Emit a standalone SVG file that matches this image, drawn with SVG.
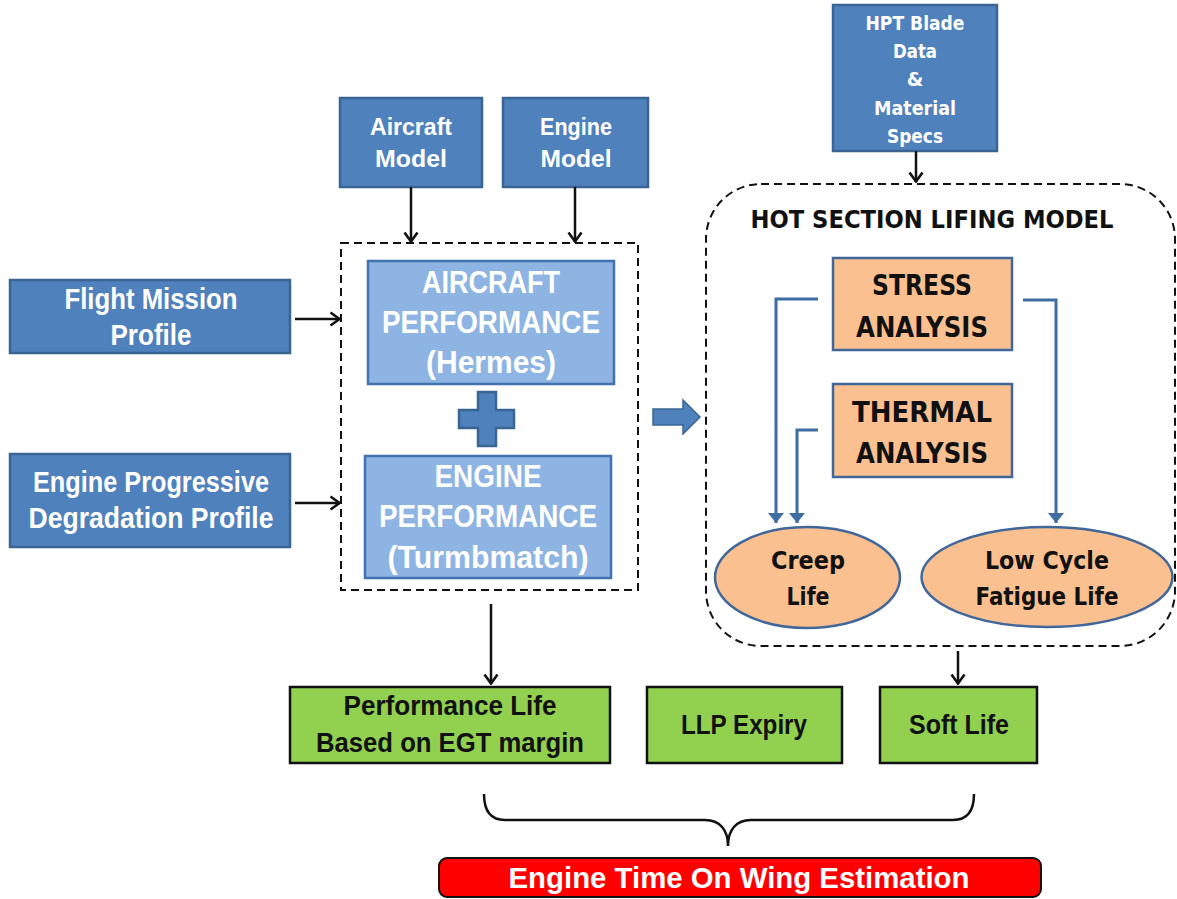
<svg xmlns="http://www.w3.org/2000/svg" width="1177" height="899" viewBox="0 0 1177 899">
<defs>
<style>
.dk{fill:#4F81BD;stroke:#3A6593;stroke-width:2.5}
.lt{fill:#8DB4E2;stroke:#4272B0;stroke-width:2.5}
.pe{fill:#FAC090;stroke:#41679A;stroke-width:2.5}
.gr{fill:#92D050;stroke:#111;stroke-width:2.5}
.dash{fill:none;stroke:#111;stroke-width:2;stroke-dasharray:8 5}
.w{fill:#fff;font-family:"Liberation Sans",Arial,sans-serif;font-weight:bold;text-anchor:middle}
.k{fill:#111;font-family:"Liberation Sans",Arial,sans-serif;font-weight:bold;text-anchor:middle}
.wv{fill:#fff;font-family:"DejaVu Sans",Verdana,sans-serif;font-weight:bold;text-anchor:middle}
.kv{fill:#111;font-family:"DejaVu Sans",Verdana,sans-serif;font-weight:bold;text-anchor:middle}
.ca{fill:none;stroke:#111;stroke-width:2.5}
.ba{fill:none;stroke:#3F6CA3;stroke-width:3}
</style>
<marker id="ah" viewBox="0 0 12 16" refX="11" refY="8" markerWidth="12" markerHeight="16" markerUnits="userSpaceOnUse" orient="auto">
<path d="M1.5,1.5 L10.5,8 L1.5,14.5" fill="none" stroke="#111" stroke-width="2.6"/>
</marker>
<marker id="bh" viewBox="0 0 10 16" refX="10" refY="8" markerWidth="10" markerHeight="16" markerUnits="userSpaceOnUse" orient="auto">
<path d="M0,0 L10,8 L0,16 Z" fill="#3F6CA3"/>
</marker>
</defs>
<rect width="1177" height="899" fill="#fff"/>

<g id="aircraft-model">
<rect class="dk" x="340" y="98" width="142" height="89"/>
<text class="w" x="411" y="135" font-size="24" textLength="82" lengthAdjust="spacingAndGlyphs">Aircraft</text>
<text class="w" x="411" y="167" font-size="24" textLength="72" lengthAdjust="spacingAndGlyphs">Model</text>
</g>
<g id="engine-model">
<rect class="dk" x="503" y="98" width="145" height="89"/>
<text class="w" x="576" y="135" font-size="24" textLength="72" lengthAdjust="spacingAndGlyphs">Engine</text>
<text class="w" x="576" y="167" font-size="24" textLength="71" lengthAdjust="spacingAndGlyphs">Model</text>
</g>
<g id="flight-mission">
<rect class="dk" x="10" y="280" width="280" height="73"/>
<text class="w" x="151" y="309" font-size="29" textLength="173" lengthAdjust="spacingAndGlyphs">Flight Mission</text>
<text class="w" x="151" y="345" font-size="29" textLength="81" lengthAdjust="spacingAndGlyphs">Profile</text>
</g>
<g id="engine-degradation">
<rect class="dk" x="10" y="454" width="280" height="93"/>
<text class="w" x="151" y="492" font-size="29" textLength="236" lengthAdjust="spacingAndGlyphs">Engine Progressive</text>
<text class="w" x="151" y="528" font-size="29" textLength="245" lengthAdjust="spacingAndGlyphs">Degradation Profile</text>
</g>
<g id="performance-group">
<rect class="dash" x="341" y="243" width="297" height="347"/>
</g>
<g id="aircraft-performance">
<rect class="lt" x="368" y="261" width="246" height="123"/>
<text class="w" x="491" y="293" font-size="31" textLength="138" lengthAdjust="spacingAndGlyphs">AIRCRAFT</text>
<text class="w" x="491" y="333" font-size="31" textLength="218" lengthAdjust="spacingAndGlyphs">PERFORMANCE</text>
<text class="w" x="491" y="373" font-size="31" textLength="130" lengthAdjust="spacingAndGlyphs">(Hermes)</text>
</g>
<g id="plus">
<path class="dk" d="M478,392 H496 V410 H514 V428 H496 V446 H478 V428 H459 V410 H478 Z" stroke-width="2"/>
</g>
<g id="engine-performance">
<rect class="lt" x="365" y="456" width="246" height="122"/>
<text class="w" x="488" y="487" font-size="31" textLength="107" lengthAdjust="spacingAndGlyphs">ENGINE</text>
<text class="w" x="488" y="527" font-size="31" textLength="218" lengthAdjust="spacingAndGlyphs">PERFORMANCE</text>
<text class="w" x="488" y="568" font-size="31" textLength="201" lengthAdjust="spacingAndGlyphs">(Turmbmatch)</text>
</g>
<g id="block-arrow">
<path d="M653,409 H683 V400 L700,417 L683,434 V425 H653 Z" fill="#4F81BD" stroke="#3A6593" stroke-width="1.5"/>
</g>
<g id="hpt-blade">
<rect class="dk" x="833" y="5" width="164" height="146"/>
<text class="wv" x="915" y="30" font-size="19" textLength="99" lengthAdjust="spacingAndGlyphs">HPT Blade</text>
<text class="wv" x="915" y="58" font-size="19" textLength="44" lengthAdjust="spacingAndGlyphs">Data</text>
<text class="wv" x="915" y="86" font-size="19">&amp;</text>
<text class="wv" x="915" y="115" font-size="19" textLength="82" lengthAdjust="spacingAndGlyphs">Material</text>
<text class="wv" x="915" y="143" font-size="19" textLength="56" lengthAdjust="spacingAndGlyphs">Specs</text>
</g>
<g id="hot-section">
<rect class="dash" x="706" y="184" width="469" height="462" rx="55" ry="55"/>
<text class="kv" x="932" y="228" font-size="25" textLength="363" lengthAdjust="spacingAndGlyphs">HOT SECTION LIFING MODEL</text>
</g>
<g id="stress-analysis">
<rect class="pe" x="833" y="258" width="179" height="92"/>
<text class="kv" x="922" y="295" font-size="28" textLength="100" lengthAdjust="spacingAndGlyphs">STRESS</text>
<text class="kv" x="922" y="337" font-size="28" textLength="132" lengthAdjust="spacingAndGlyphs">ANALYSIS</text>
</g>
<g id="thermal-analysis">
<rect class="pe" x="833" y="384" width="179" height="93"/>
<text class="kv" x="922" y="422" font-size="28" textLength="140" lengthAdjust="spacingAndGlyphs">THERMAL</text>
<text class="kv" x="922" y="463" font-size="28" textLength="132" lengthAdjust="spacingAndGlyphs">ANALYSIS</text>
</g>
<g id="creep-life">
<ellipse class="pe" cx="807.5" cy="577.5" rx="92.5" ry="50.5"/>
<text class="kv" x="808" y="569" font-size="24" textLength="74" lengthAdjust="spacingAndGlyphs">Creep</text>
<text class="kv" x="808" y="605" font-size="24" textLength="43" lengthAdjust="spacingAndGlyphs">Life</text>
</g>
<g id="lcf-life">
<ellipse class="pe" cx="1047" cy="577" rx="125.5" ry="50"/>
<text class="kv" x="1047" y="569" font-size="24" textLength="124" lengthAdjust="spacingAndGlyphs">Low Cycle</text>
<text class="kv" x="1047" y="605" font-size="24" textLength="143" lengthAdjust="spacingAndGlyphs">Fatigue Life</text>
</g>
<g id="performance-life">
<rect class="gr" x="290" y="687" width="320" height="76"/>
<text class="k" x="450" y="715" font-size="27" textLength="213" lengthAdjust="spacingAndGlyphs">Performance Life</text>
<text class="k" x="450" y="752" font-size="27" textLength="268" lengthAdjust="spacingAndGlyphs">Based on EGT margin</text>
</g>
<g id="llp-expiry">
<rect class="gr" x="647" y="687" width="195" height="76"/>
<text class="k" x="744" y="734" font-size="27" textLength="126" lengthAdjust="spacingAndGlyphs">LLP Expiry</text>
</g>
<g id="soft-life">
<rect class="gr" x="880" y="687" width="157" height="76"/>
<text class="k" x="959" y="734" font-size="27" textLength="100" lengthAdjust="spacingAndGlyphs">Soft Life</text>
</g>
<g id="time-on-wing">
<rect x="439" y="858" width="602" height="39" rx="8" ry="8" fill="#FF0000" stroke="#111" stroke-width="2"/>
<text class="w" x="739" y="888" font-size="30" textLength="461" lengthAdjust="spacingAndGlyphs">Engine Time On Wing Estimation</text>
</g>
<g id="connectors">
<line class="ca" x1="411" y1="187" x2="411" y2="242" marker-end="url(#ah)"/>
<line class="ca" x1="575" y1="187" x2="575" y2="242" marker-end="url(#ah)"/>
<line class="ca" x1="295" y1="319" x2="340" y2="319" marker-end="url(#ah)"/>
<line class="ca" x1="295" y1="503" x2="340" y2="503" marker-end="url(#ah)"/>
<line class="ca" x1="916" y1="151" x2="916" y2="182" marker-end="url(#ah)"/>
<line class="ca" x1="491" y1="604" x2="491" y2="684" marker-end="url(#ah)"/>
<line class="ca" x1="958" y1="651" x2="958" y2="684" marker-end="url(#ah)"/>
<path class="ba" d="M818,299 H776 V523" marker-end="url(#bh)"/>
<path class="ba" d="M818,430 H797 V523" marker-end="url(#bh)"/>
<path class="ba" d="M1023,300 H1056 V523" marker-end="url(#bh)"/>
<path class="ca" d="M484,794 C484,810 490,820 505,820 L705,820 C720,820 728,830 728,846 C728,830 736,820 751,820 L953,820 C968,820 974,810 974,794"/>
</g>
</svg>
